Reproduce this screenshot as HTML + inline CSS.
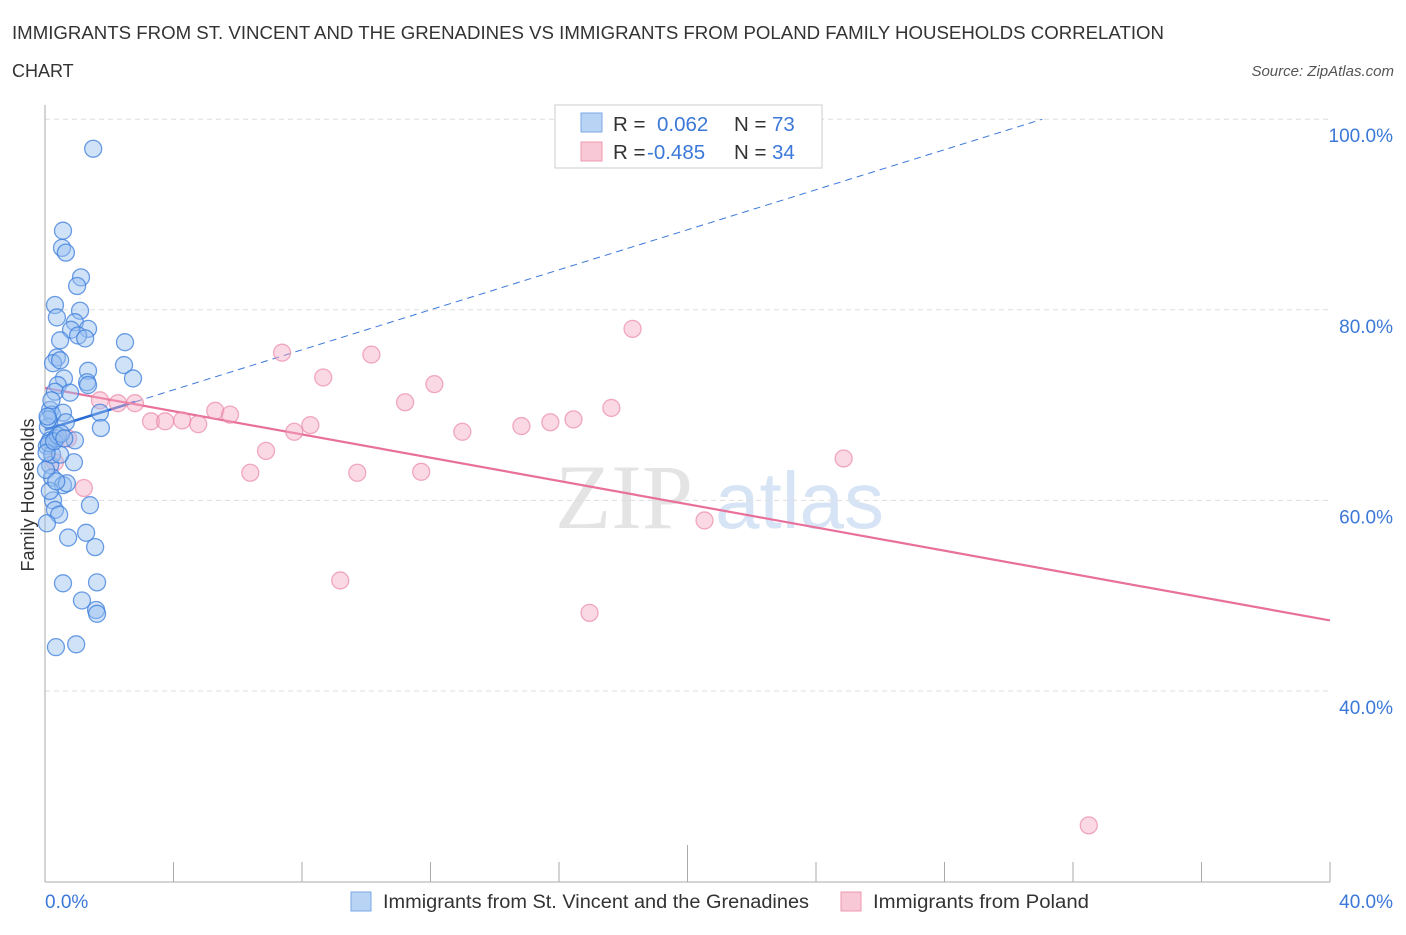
<!DOCTYPE html>
<html><head><meta charset="utf-8"><style>
body{margin:0;background:#fff;font-family:"Liberation Sans",sans-serif;}
</style></head><body>
<svg id="chart" width="1406" height="930" xmlns="http://www.w3.org/2000/svg" font-family="Liberation Sans, sans-serif">
<text x="12" y="39" font-size="18" fill="#333" textLength="1152" lengthAdjust="spacingAndGlyphs">IMMIGRANTS FROM ST. VINCENT AND THE GRENADINES VS IMMIGRANTS FROM POLAND FAMILY HOUSEHOLDS CORRELATION</text>
<text x="12" y="77" font-size="18" fill="#333">CHART</text>
<text x="1394" y="76" font-size="15" fill="#555" text-anchor="end" font-style="italic">Source: ZipAtlas.com</text>
<text transform="translate(34,495) rotate(-90)" font-size="18" fill="#333" text-anchor="middle">Family Households</text>
<text x="555" y="528" font-size="92" fill="#e4e4e4" font-family="Liberation Serif, serif">ZIP</text>
<text x="715" y="528" font-size="80" fill="#d6e4f5">atlas</text>
<g id="grid"></g><g id="axes"></g><g id="lines"></g><g id="pts"></g>
<g>
<rect x="555" y="105" width="267" height="63" fill="#fff" stroke="#ccc"/>
<rect x="581" y="113" width="21" height="19" fill="#b9d3f5" stroke="#7aa7e6"/>
<rect x="581" y="142" width="21" height="19" fill="#f9c8d6" stroke="#ee9ab3"/>
<text x="613" y="131" font-size="20.5" fill="#333">R =</text><text x="657" y="131" font-size="20.5" fill="#3b78d8">0.062</text>
<text x="734" y="131" font-size="20.5" fill="#333">N =</text><text x="772" y="131" font-size="20.5" fill="#3b78d8">73</text>
<text x="613" y="159" font-size="20.5" fill="#333">R =</text><text x="647" y="159" font-size="20.5" fill="#3b78d8">-0.485</text>
<text x="734" y="159" font-size="20.5" fill="#333">N =</text><text x="772" y="159" font-size="20.5" fill="#3b78d8">34</text>
</g>
<g>
<rect x="351" y="892" width="20" height="19" fill="#b9d3f5" stroke="#7aa7e6"/>
<text x="383" y="908" font-size="19" fill="#333" textLength="426" lengthAdjust="spacingAndGlyphs">Immigrants from St. Vincent and the Grenadines</text>
<rect x="841" y="892" width="20" height="19" fill="#f9c8d6" stroke="#ee9ab3"/>
<text x="873" y="908" font-size="19" fill="#333" textLength="216" lengthAdjust="spacingAndGlyphs">Immigrants from Poland</text>
</g>
</svg>
<script>
const yTicks=[40,60,80,100];
const yTickLabels=["40.0%","60.0%","80.0%","100.0%"];
const xTickVals=[0,4,8,12,16,20,24,28,32,36,40];
const blueX=[1.50,0.56,0.53,0.65,1.12,1.00,0.31,0.37,1.09,0.93,0.81,1.34,0.47,1.03,1.25,2.49,0.37,0.25,0.47,2.46,1.34,0.59,2.74,0.40,1.31,1.34,0.31,0.78,0.16,0.22,0.56,1.71,0.65,0.09,1.74,0.16,0.34,0.93,0.06,0.90,0.16,0.22,0.56,0.68,0.25,0.31,0.44,1.40,0.06,1.28,0.72,1.56,0.56,1.62,1.15,1.59,1.62,0.34,0.97,0.03,0.22,0.47,0.10,0.12,0.40,0.20,0.05,0.28,0.50,0.15,0.08,0.35,0.60];
const blueY=[96.9,88.3,86.5,86.0,83.4,82.5,80.5,79.2,79.9,78.7,77.9,78.0,76.8,77.3,77.0,76.6,75.0,74.4,74.7,74.2,73.6,72.8,72.8,72.1,72.4,72.1,71.4,71.3,69.5,69.0,69.2,69.2,68.2,67.7,67.6,66.3,66.5,66.3,65.7,64.0,63.7,62.4,61.6,61.8,60.0,59.0,58.5,59.5,57.6,56.6,56.1,55.1,51.3,51.4,49.5,48.5,48.1,44.6,44.9,63.2,64.8,64.8,68.5,66.0,66.8,70.5,65.0,66.2,67.0,61.0,68.8,62.0,66.5];
const pinkX=[7.38,10.16,18.29,8.66,12.12,11.21,1.71,2.27,2.80,17.63,5.30,5.76,3.30,3.74,4.27,4.77,8.26,7.76,12.99,14.83,15.73,16.45,0.72,6.88,24.86,6.39,9.72,11.71,0.31,1.21,20.53,9.19,16.95,32.49];
const pinkY=[75.5,75.3,78.0,72.9,72.2,70.3,70.5,70.2,70.2,69.7,69.4,69.0,68.3,68.3,68.4,68.0,67.9,67.2,67.2,67.8,68.2,68.5,66.5,65.2,64.4,62.9,62.9,63.0,64.0,61.3,57.9,51.6,48.2,25.9];
const blueTrend=[67.4,1.05];
const pinkTrend=[71.8,-0.61];
const NS="http://www.w3.org/2000/svg";
const X=v=>45+v*32.125, Y=v=>691-(v-40)*9.53;
function mk(t,a,p){const e=document.createElementNS(NS,t);for(const k in a)e.setAttribute(k,a[k]);p.appendChild(e);return e;}
const grid=document.getElementById('grid'),axes=document.getElementById('axes'),lines=document.getElementById('lines'),pts=document.getElementById('pts');
yTicks.forEach((v,i)=>{
 const g=mk('line',{x1:45,x2:1330,y1:Y(v),y2:Y(v),stroke:'#ddd','stroke-dasharray':'5,4'},grid);
 
 
 const t=mk('text',{x:1393,y:Y(v)+23,'font-size':19,fill:'#3b78d8','text-anchor':'end'},axes);t.textContent=yTickLabels[i];
 
 
});
const ax=mk('line',{x1:45,x2:45,y1:105,y2:882,stroke:'#aaa'},axes);


const bx=mk('line',{x1:45,x2:1330,y1:882,y2:882,stroke:'#aaa'},axes);


xTickVals.forEach(v=>{const t=mk('line',{x1:X(v),x2:X(v),y1:v==20?845:862,y2:882,stroke:'#aaa'},axes);
 
 });
const xl=mk('text',{x:45,y:908,'font-size':19,fill:'#3b78d8'},axes);xl.textContent='0.0%';


const xr=mk('text',{x:1393,y:908,'font-size':19,fill:'#3b78d8','text-anchor':'end'},axes);xr.textContent='40.0%';


function dot(x,y,f,s,n){const c=mk('circle',{cx:X(x),cy:Y(y),r:8.5,fill:f,stroke:s,'stroke-width':1.3},pts);
 
 }
pinkX.forEach((x,i)=>dot(x,pinkY[i],'rgba(245,170,195,0.45)','rgba(232,120,155,0.6)','pink-point'));
blueX.forEach((x,i)=>dot(x,blueY[i],'rgba(150,190,240,0.45)','rgba(60,125,220,0.75)','blue-point'));
const bt=v=>blueTrend[0]+blueTrend[1]*v, pt=v=>pinkTrend[0]+pinkTrend[1]*v;
const xEnd=(100-blueTrend[0])/blueTrend[1];
const l1=mk('line',{x1:X(2.8),y1:Y(bt(2.8)),x2:X(xEnd),y2:Y(100),stroke:'#3b78d8','stroke-width':1,'stroke-dasharray':'7,5'},lines);


const l2=mk('line',{x1:X(0),y1:Y(bt(0)),x2:X(2.8),y2:Y(bt(2.8)),stroke:'#2a6ad4','stroke-width':2.5},lines);


const l3=mk('line',{x1:X(0),y1:Y(pt(0)),x2:X(40),y2:Y(pt(40)),stroke:'#e8709a','stroke-width':2.2},lines);


</script>
</body></html>
